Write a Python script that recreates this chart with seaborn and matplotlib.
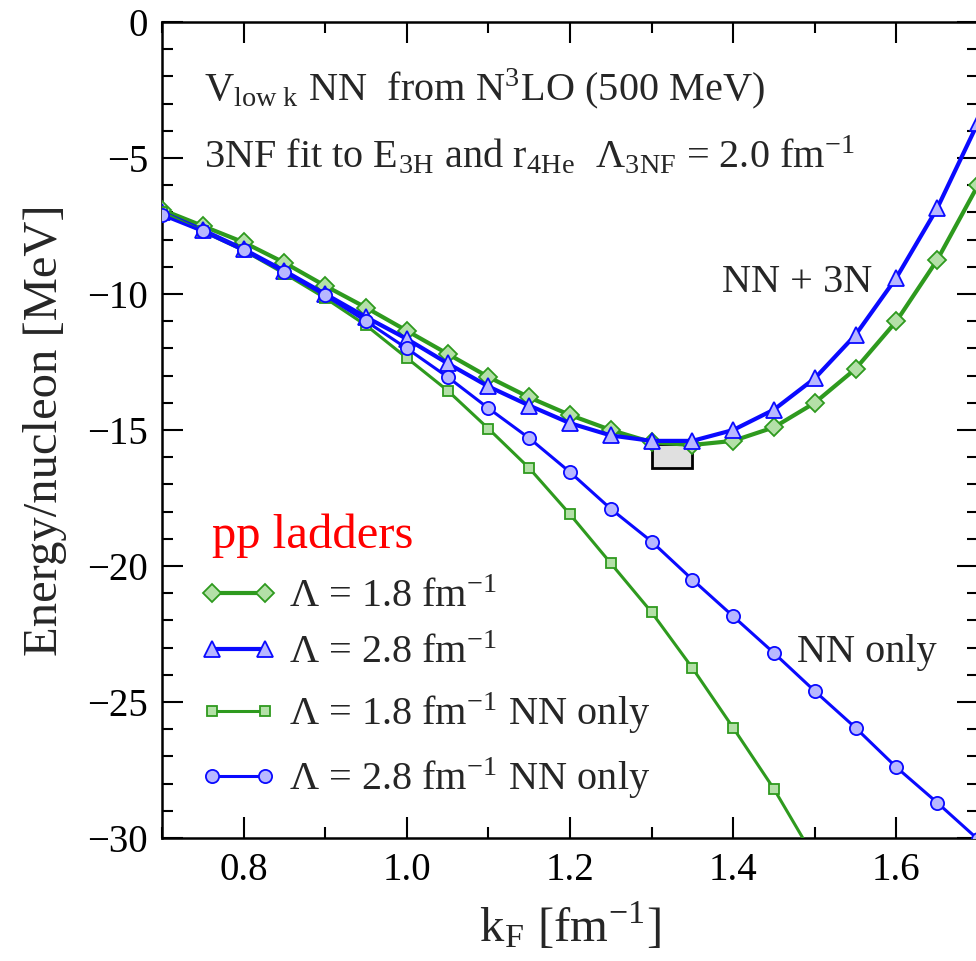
import numpy as np
import pandas as pd
import matplotlib
matplotlib.use("Agg")
import matplotlib.pyplot as plt
import seaborn as sns
from matplotlib.patches import Rectangle
from matplotlib.ticker import MultipleLocator, FuncFormatter

# ---------------- data ----------------
kF = [0.70, 0.75, 0.80, 0.85, 0.90, 0.95, 1.00, 1.05, 1.10, 1.15, 1.20,
      1.25, 1.30, 1.35, 1.40, 1.45, 1.50, 1.55, 1.60, 1.65, 1.70]
E_18_3N = [-6.9, -7.5, -8.1, -8.85, -9.7, -10.5, -11.35, -12.2, -13.05, -13.8, -14.45,
           -15.0, -15.45, -15.55, -15.4, -14.9, -14.0, -12.75, -11.0, -8.75, -6.0]
E_28_3N = [-7.0, -7.65, -8.35, -9.15, -10.0, -10.85, -11.65, -12.55, -13.4, -14.1, -14.75,
           -15.2, -15.4, -15.4, -15.0, -14.25, -13.1, -11.5, -9.4, -6.85, -3.7]
kF_18_NN = kF[:17]
E_18_NN = [-7.0, -7.7, -8.4, -9.25, -10.15, -11.15, -12.35, -13.55, -14.95, -16.4, -18.1,
           -19.9, -21.7, -23.75, -25.95, -28.2, -30.75]
E_28_NN = [-7.1, -7.7, -8.4, -9.2, -10.05, -11.0, -12.0, -13.05, -14.2, -15.3, -16.55,
           -17.9, -19.1, -20.5, -21.85, -23.2, -24.6, -25.95, -27.4, -28.7, -30.05]
labels = [r"$\mathregular{\Lambda}$ = 1.8 fm$^{\mathregular{-1}}$",
          r"$\mathregular{\Lambda}$ = 2.8 fm$^{\mathregular{-1}}$",
          r"$\mathregular{\Lambda}$ = 1.8 fm$^{\mathregular{-1}}$ NN only",
          r"$\mathregular{\Lambda}$ = 2.8 fm$^{\mathregular{-1}}$ NN only"]
sat_box = (1.30, 1.35, -16.4, -15.5)

# ---------------- style ----------------
sns.set_theme(style="ticks")
plt.rcParams["font.family"] = ["Liberation Serif", "DejaVu Serif"]
plt.rcParams["mathtext.fontset"] = "stix"
plt.rcParams["axes.unicode_minus"] = True

GREEN = "#2e9a1e"
BLUE = "#0a0aff"
LGREEN = "#b4e0a8"
LBLUE = "#b8b8ff"

fig = plt.figure(figsize=(9.76, 9.61), dpi=100)
ax = fig.add_axes([162/976, 123/961, 816/976, 816/961])

series = [
    (kF, E_18_3N, GREEN, LGREEN, "D", 9, 3.0, labels[0]),
    (kF, E_28_3N, BLUE, LBLUE, "^", 12, 3.0, labels[1]),
    (kF_18_NN, E_18_NN, GREEN, LGREEN, "s", 7, 2.2, labels[2]),
    (kF, E_28_NN, BLUE, LBLUE, "o", 9.5, 2.2, labels[3]),
]
for xs, ys, c, fc, m, ms, lw, lab in series:
    df = pd.DataFrame({"kF": xs, "E": ys})
    sns.lineplot(data=df, x="kF", y="E", ax=ax, color=c, lw=lw, marker=m,
                 markersize=ms, markerfacecolor=fc, markeredgecolor=c,
                 markeredgewidth=1.3, label=lab, zorder=3, sort=False)

ax.add_patch(Rectangle((sat_box[0], sat_box[2]), sat_box[1]-sat_box[0],
                       sat_box[3]-sat_box[2], facecolor="#e0e0e0",
                       edgecolor="black", lw=2, zorder=2))

ax.set_xlim(0.7, 1.7)
ax.set_ylim(-30, 0)
ax.xaxis.set_major_locator(MultipleLocator(0.2))
ax.xaxis.set_minor_locator(MultipleLocator(0.1))
ax.yaxis.set_major_locator(MultipleLocator(5))
ax.yaxis.set_minor_locator(MultipleLocator(1))
ax.xaxis.set_major_formatter(FuncFormatter(lambda v, p: f"{v:.1f}"))
ax.yaxis.set_major_formatter(FuncFormatter(lambda v, p: f"{int(round(v))}".replace("-", "\u2212")))
ax.tick_params(which="both", direction="in", top=True, right=True, width=1.5,
               labelsize=28, colors="black")
ax.tick_params(which="major", length=15, pad=10)
ax.tick_params(which="minor", length=8)
for s in ax.spines.values():
    s.set_linewidth(1.8)
    s.set_color("black")

ax.set_xlabel(r"k$_{\mathregular{F}}$ [fm$^{\mathregular{-1}}$]", fontsize=35, labelpad=8)
ax.set_ylabel("Energy/nucleon [MeV]", fontsize=35)
ax.yaxis.set_label_coords(-0.116, 0.5)

ax.text(0.752, -2.87, r"V$_{\mathregular{low\ k}}$ NN  from N$^{\mathregular{3}}$LO (500 MeV)",
        fontsize=29, va="baseline", ha="left")
ax.text(0.752, -5.37, r"3NF fit to E$_{\mathregular{3H}}$ and r$_{\mathregular{4He}}$  "
        r"$\mathregular{\Lambda_{3NF}}$ = 2.0 fm$^{\mathregular{-1}}$",
        fontsize=29, va="baseline", ha="left")
ax.text(1.386, -9.93, "NN + 3N", fontsize=29, va="baseline", ha="left")
ax.text(1.478, -23.53, "NN only", fontsize=29, va="baseline", ha="left")
ax.text(0.761, -19.34, "pp ladders", fontsize=35, va="baseline", ha="left", color="red")

leg = ax.legend(loc="upper left", bbox_to_anchor=(0.047, 0.318), frameon=False,
                fontsize=29, numpoints=2, handlelength=1.9, handletextpad=0.3,
                labelspacing=0.47, borderaxespad=0, borderpad=0)

fig.savefig("out.png", dpi=100)
